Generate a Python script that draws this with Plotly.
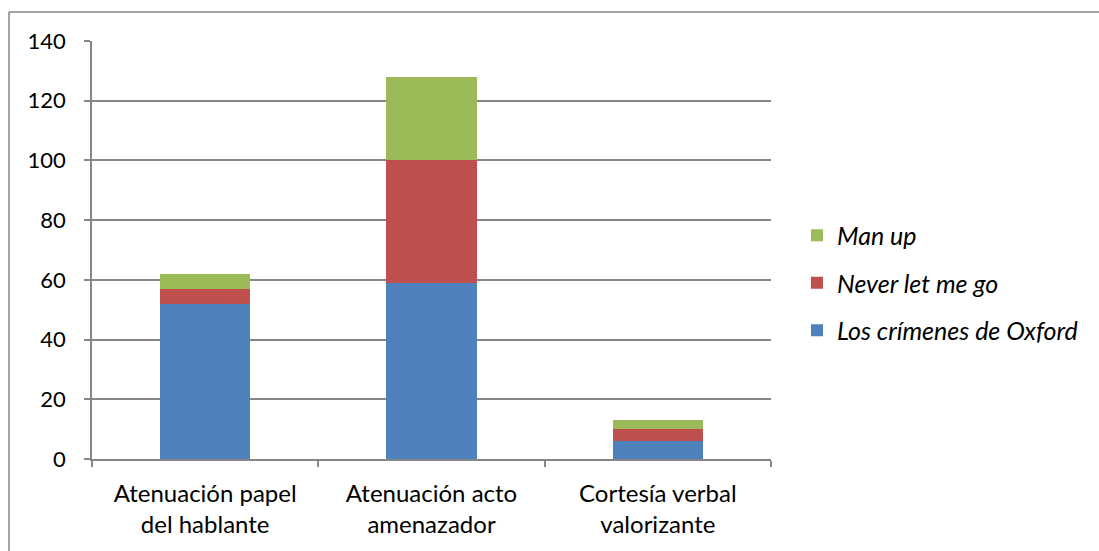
import plotly.graph_objects as go

categories = ["Atenuación papel<br>del hablante", "Atenuación acto<br>amenazador", "Cortesía verbal<br>valorizante"]
los_crimenes = [52, 59, 6]
never_let_me_go = [5, 41, 4]
man_up = [5, 28, 3]

series = [
    ("Los crímenes de Oxford", los_crimenes, "#4F81BD"),
    ("Never let me go", never_let_me_go, "#C0504D"),
    ("Man up", man_up, "#9BBB59"),
]

FONT = "Lato, Calibri, Carlito, sans-serif"
GRID = "#868686"

fig = go.Figure()
for i, (name, vals, color) in enumerate(series):
    fig.add_trace(go.Bar(
        x=categories, y=vals, name=name,
        marker=dict(color=color, line=dict(width=0)),
        legendgroup=f"g{i}",
        legendrank=len(series) - i,
    ))

W, H = 1099, 551
L, R, T, B = 92, 771, 41, 459
pw, ph = R - L, B - T

def px_x(x):
    return (x - L) / pw

def px_y(y):
    return (B - y) / ph

fig.update_layout(
    width=W, height=H,
    margin=dict(l=L, r=W - R, t=T, b=H - B),
    barmode="stack",
    bargap=0.6,
    plot_bgcolor="white",
    paper_bgcolor="white",
    font=dict(family=FONT, size=22, color="black"),
    showlegend=True,
    legend=dict(
        x=px_x(797), y=px_y(283), xanchor="left", yanchor="middle",
        traceorder="grouped",
        tracegroupgap=12,
        font=dict(family=FONT, size=25, style="italic"),
        bgcolor="rgba(0,0,0,0)",
    ),
    xaxis=dict(
        showline=True, linecolor=GRID, linewidth=1.5,
        ticks="outside", tickson="boundaries", ticklen=6, tickcolor=GRID,
        tickwidth=1.5,
        showgrid=False,
        ticklabelstandoff=12,
        tickfont=dict(family=FONT, size=24),
    ),
    yaxis=dict(
        range=[0, 140], dtick=20,
        showline=True, linecolor=GRID, linewidth=1.5,
        ticks="outside", ticklen=6, tickcolor=GRID, tickwidth=1.5,
        showgrid=True, gridcolor=GRID, gridwidth=1.5,
        zeroline=False,
        ticklabelstandoff=14,
        tickfont=dict(family=FONT, size=22),
    ),
    shapes=[
        dict(type="line", xref="paper", yref="paper",
             x0=px_x(9), x1=px_x(1099), y0=px_y(12), y1=px_y(12),
             line=dict(color=GRID, width=1.5)),
        dict(type="line", xref="paper", yref="paper",
             x0=px_x(9), x1=px_x(9), y0=px_y(12), y1=px_y(551),
             line=dict(color=GRID, width=1.5)),
    ],
)

fig.write_html("out.html")
